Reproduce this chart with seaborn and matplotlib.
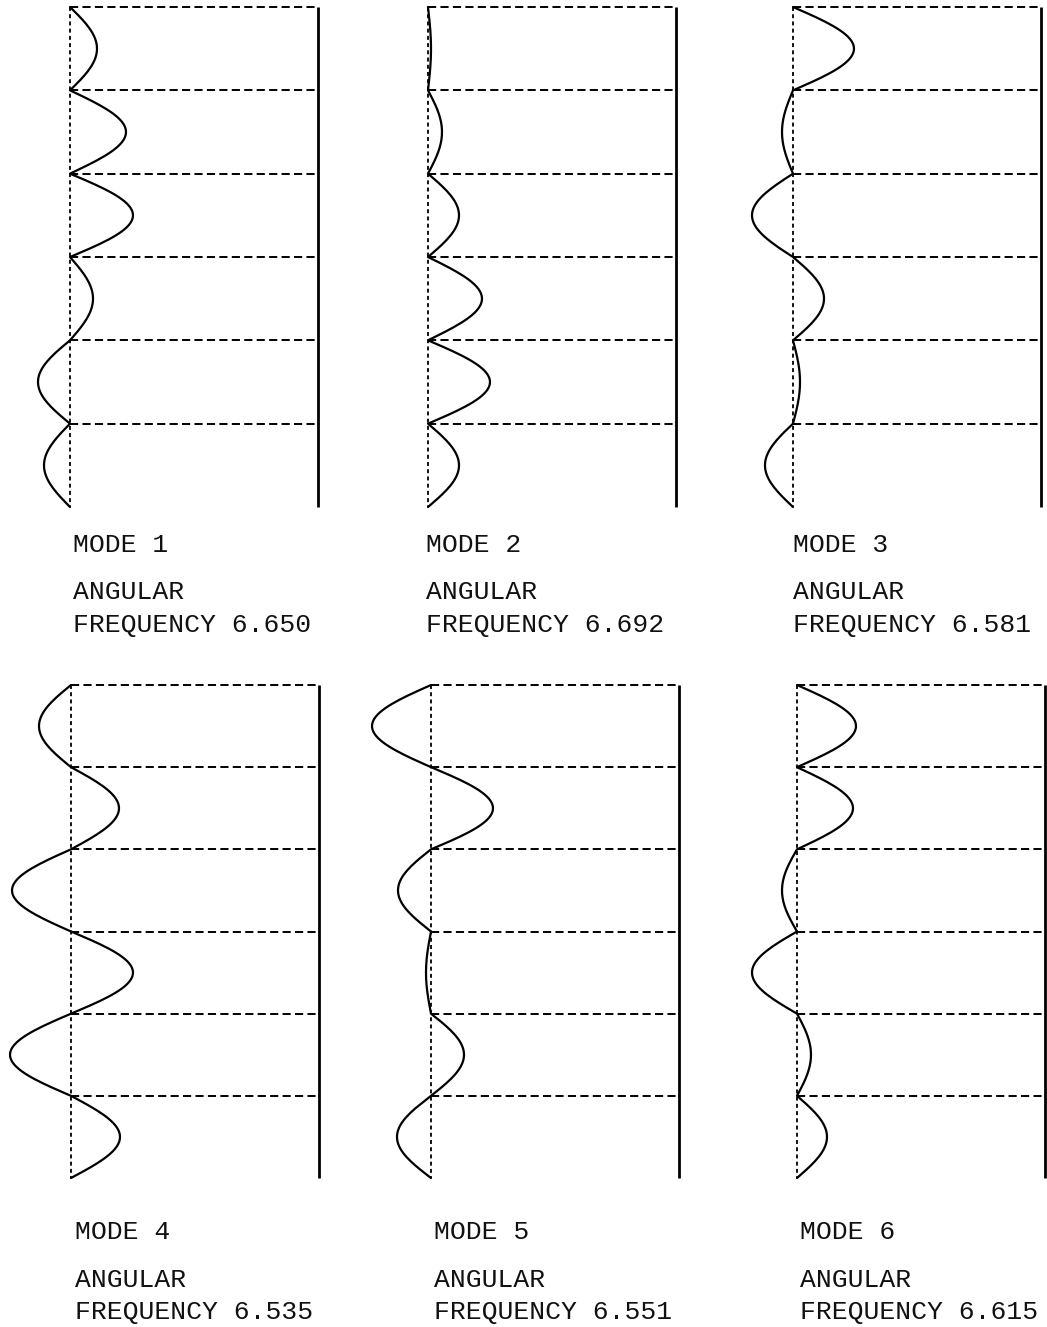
import numpy as np
import matplotlib
matplotlib.use("Agg")
import matplotlib.pyplot as plt
import seaborn as sns

# ─────────────────────────────────────────────
# Data
# ─────────────────────────────────────────────

mode_numbers = [1, 2, 3, 4, 5, 6]
frequencies  = ["6.650", "6.692", "6.581", "6.535", "6.551", "6.615"]

# lobe amplitude per storey segment (top to bottom), + is to the right
mode1 = [27, 56, 63, 23, -32, -26]
mode2 = [3, 14, 31, 54, 62, 31]
mode3 = [61, -11, -41, 31, 7, -28]
mode4 = [-32, 48, -59, 62, -61, 49]
mode5 = [-59, 62, -33, -5, 33, -34]
mode6 = [59, 56, -15, -45, 14, 30]
amplitudes = [mode1, mode2, mode3, mode4, mode5, mode6]

n_segments = 6
wall_x     = 248   # distance from the dashed reference line to the solid wall

# ─────────────────────────────────────────────
# Layout (pixels in the 1047x1327 figure)
# ─────────────────────────────────────────────

W_PX, H_PX = 1047, 1327
panel_left   = [70, 428, 793, 71, 431, 797]
panel_top    = [7, 7, 7, 685, 685, 685]
panel_bottom = [507, 507, 507, 1178, 1178, 1178]
text_rows    = {0: (545, 592, 625), 1: (1232, 1280, 1312)}
text_dx      = [3, -2, 0, 4, 3, 3]

sns.set_theme(style="white")
plt.rcParams["font.family"] = ["Liberation Mono", "DejaVu Sans Mono"]

fig = plt.figure(figsize=(W_PX / 100, H_PX / 100), dpi=100)

pad_l, pad_r = 80, 6

for i, amps in enumerate(amplitudes):
    L, T, B = panel_left[i], panel_top[i], panel_bottom[i]
    ax = fig.add_axes([(L - pad_l) / W_PX, 1 - B / H_PX,
                       (wall_x + pad_l + pad_r) / W_PX, (B - T) / H_PX])
    ax.set_xlim(-pad_l, wall_x + pad_r)
    ax.set_ylim(n_segments, 0)
    ax.axis("off")

    # storey lines and reference line
    ax.hlines(np.arange(n_segments), 0, wall_x, colors="black", lw=1.4,
              linestyles=[(0, (4.2, 2.2))], clip_on=False)
    ax.vlines(0, 0, n_segments, colors="black", lw=1.3,
              linestyles=[(0, (2.2, 1.8))], clip_on=False)
    ax.vlines(wall_x, 0, n_segments, colors="black", lw=2.0, clip_on=False)

    # mode shape: one half-wave lobe per segment
    t = np.linspace(0, 1, 40)
    xs, ys = [], []
    for k, a in enumerate(amps):
        xs.append(a * np.sin(np.pi * t))
        ys.append(k + t)
    xs = np.concatenate(xs)
    ys = np.concatenate(ys)
    sns.lineplot(x=xs, y=ys, sort=False, estimator=None, color="black",
                 lw=1.6, ax=ax, clip_on=False)

    row = i // 3
    y1, y2, y3 = text_rows[row]
    tx = (L + text_dx[i]) / W_PX
    kw = dict(fontsize=19, color="#111111", va="center", ha="left")
    fig.text(tx, 1 - y1 / H_PX, f"MODE {mode_numbers[i]}", **kw)
    fig.text(tx, 1 - y2 / H_PX, "ANGULAR", **kw)
    fig.text(tx, 1 - y3 / H_PX, f"FREQUENCY {frequencies[i]}", **kw)

fig.savefig("out.png", dpi=100, facecolor="white")
plt.close(fig)
